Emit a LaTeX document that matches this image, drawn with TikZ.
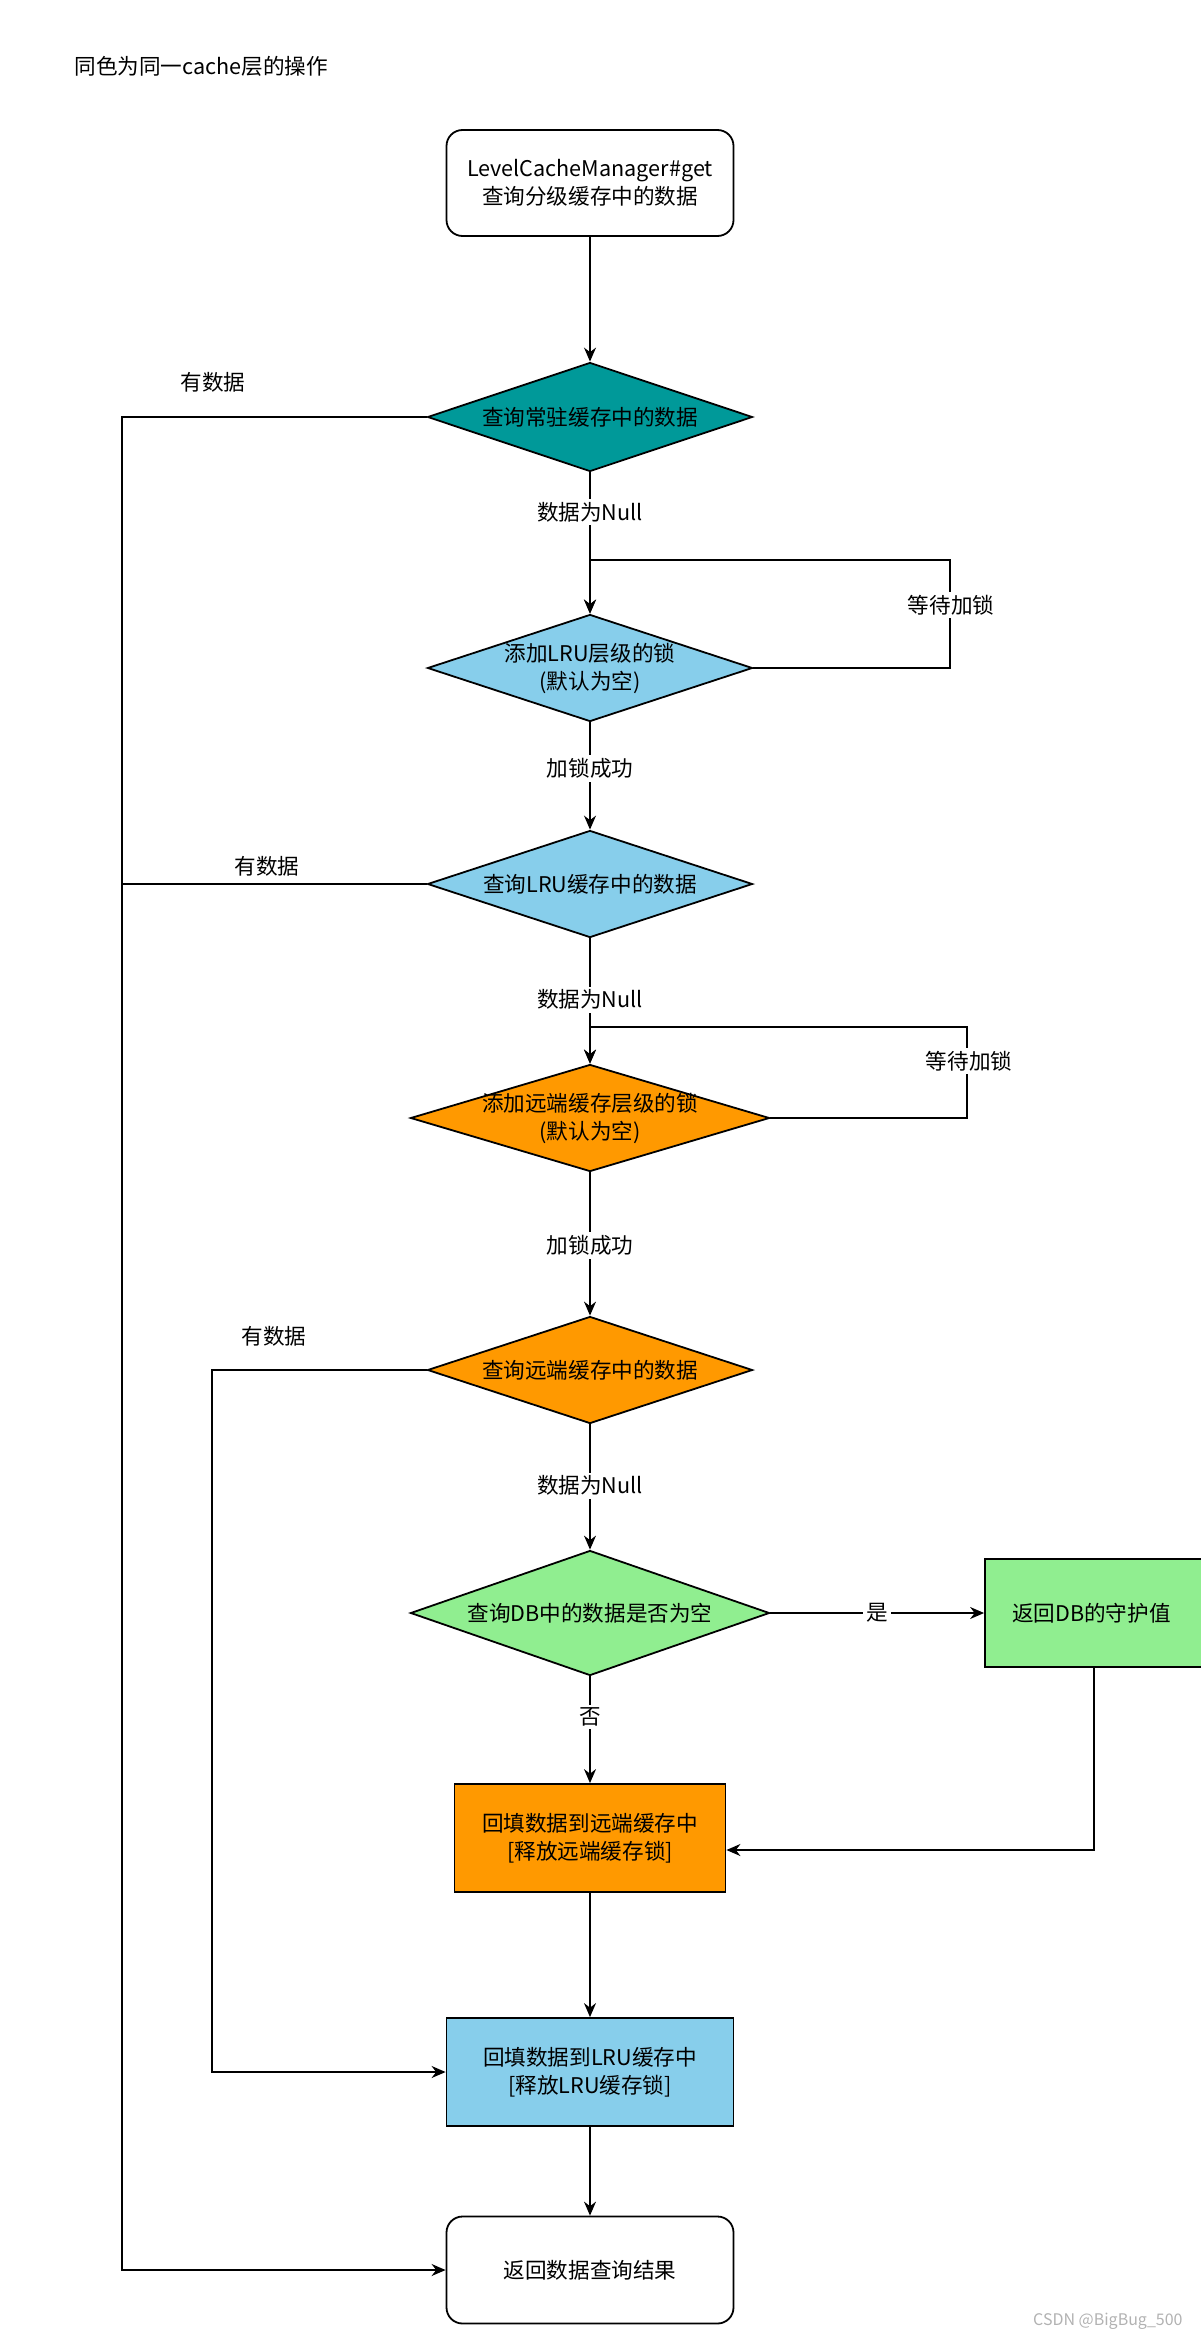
\documentclass[tikz,border=0pt]{standalone}
\usepackage{fontspec}
\setmainfont{Noto Sans CJK SC}
\usepackage{xcolor}
\usetikzlibrary{shapes.geometric,arrows.meta,positioning,calc}

\definecolor{layerone}{HTML}{009999}
\definecolor{layerlru}{HTML}{87CEEB}
\definecolor{layerremote}{HTML}{FF9900}
\definecolor{layerdb}{HTML}{90EE90}

\begin{document}
\begin{tikzpicture}[x=0.5pt,y=-0.5pt,
    font=\fontsize{10.8}{14}\selectfont,
    >={Stealth[length=7pt,width=6pt]},
    line width=0.75pt,
    terminal/.style={draw, line width=0.9pt, rounded corners=8pt, minimum width=143.5pt, minimum height=53pt, align=center},
    process/.style={draw, line width=0.9pt, minimum height=54pt, align=center},
    decision/.style={diamond, draw, line width=0.9pt, inner sep=-2pt, aspect=3, align=center},
    lbl/.style={fill=white, inner sep=1.5pt}]
    \useasboundingbox (0,0) rectangle (1200,2338);

    % Legend
    \node[anchor=west] (legend) at (67,66) {同色为同一cache层的操作};

    % Start
    \node[terminal] (start) at (590,183) {LevelCacheManager\#get\\查询分级缓存中的数据};

    % Resident cache layer
    \node[decision, fill=layerone, minimum width=162.5pt, minimum height=54.5pt] (qOne) at (590,417) {查询常驻缓存中的数据};

    % LRU layer
    \node[decision, fill=layerlru, minimum width=162.5pt, minimum height=53.5pt] (lockLru) at (590,668) {添加LRU层级的锁\\(默认为空)};
    \node[decision, fill=layerlru, minimum width=162.5pt, minimum height=53.5pt] (qLru) at (590,884) {查询LRU缓存中的数据};

    % Remote layer
    \node[decision, fill=layerremote, aspect=3.35, minimum width=179.5pt, minimum height=53.5pt] (lockRemote) at (590,1118) {添加远端缓存层级的锁\\(默认为空)};
    \node[decision, fill=layerremote, minimum width=162.5pt, minimum height=53.5pt] (qRemote) at (590,1370) {查询远端缓存中的数据};

    % DB
    \node[decision, fill=layerdb, aspect=2.87, minimum width=179.5pt, minimum height=62.5pt] (qDb) at (590,1613) {查询DB中的数据是否为空};
    \node[process, fill=layerdb, minimum width=109pt, text width=82pt, inner xsep=13.5pt, align=left] (guard) at (1094,1613) {返回DB的守护值};

    % Backfill
    \node[process, fill=layerremote, minimum width=135.5pt] (fillRemote) at (590,1838) {回填数据到远端缓存中\\{[}释放远端缓存锁{]}};
    \node[process, fill=layerlru, minimum width=143.5pt] (fillLru) at (590,2072) {回填数据到LRU缓存中\\{[}释放LRU缓存锁{]}};

    % End
    \node[terminal, minimum height=53.5pt] (result) at (590,2270) {返回数据查询结果};

    \coordinate (leftBus) at (122,2270);
    \coordinate (midBus) at (212,2072);

    % Main flow
    \draw[->] (start) -- (qOne);
    \draw[->] (qOne) -- node[lbl, pos=0.28] (nullOne) {数据为Null} (lockLru);
    \draw[->] (lockLru) -- node[lbl, pos=0.43] (okLru) {加锁成功} (qLru);
    \draw[->] (qLru) -- node[lbl, pos=0.49] (nullLru) {数据为Null} (lockRemote);
    \draw[->] (lockRemote) -- node[lbl, pos=0.51] (okRemote) {加锁成功} (qRemote);
    \draw[->] (qRemote) -- node[lbl, pos=0.49] (nullRemote) {数据为Null} (qDb);
    \draw[->] (qDb) -- node[lbl, pos=0.5] (yesDb) {是} (guard);
    \draw[->] (qDb) -- node[lbl, pos=0.38] (noDb) {否} (fillRemote);
    \draw[->] (guard.south) |- ($(fillRemote.east)+(0,12)$);
    \draw[->] (fillRemote) -- (fillLru);
    \draw[->] (fillLru) -- (result);

    % Wait loops
    \draw[->] (lockLru.east) -| (950,560) -| (lockLru.north);
    \node[lbl] (waitLru) at (951,605) {等待加锁};
    \draw[->] (lockRemote.east) -| (967,1027) -| (lockRemote.north);
    \node[lbl] (waitRemote) at (969,1061) {等待加锁};

    % Hits
    \draw[->] (qOne.west) -| (leftBus) -- (result.west);
    \draw (qLru.west) -- (qLru.west -| leftBus);
    \draw[->] (qRemote.west) -| (midBus) -- (fillLru.west);
    \node (hitOne) at (213,382) {有数据};
    \node (hitLru) at (267,866) {有数据};
    \node (hitRemote) at (274,1336) {有数据};

    % Watermark
    \node[anchor=east, text=gray!60, font=\fontsize{8}{10}\selectfont] (mark) at (1190,2321) {CSDN @BigBug\_500};
\end{tikzpicture}
\end{document}
